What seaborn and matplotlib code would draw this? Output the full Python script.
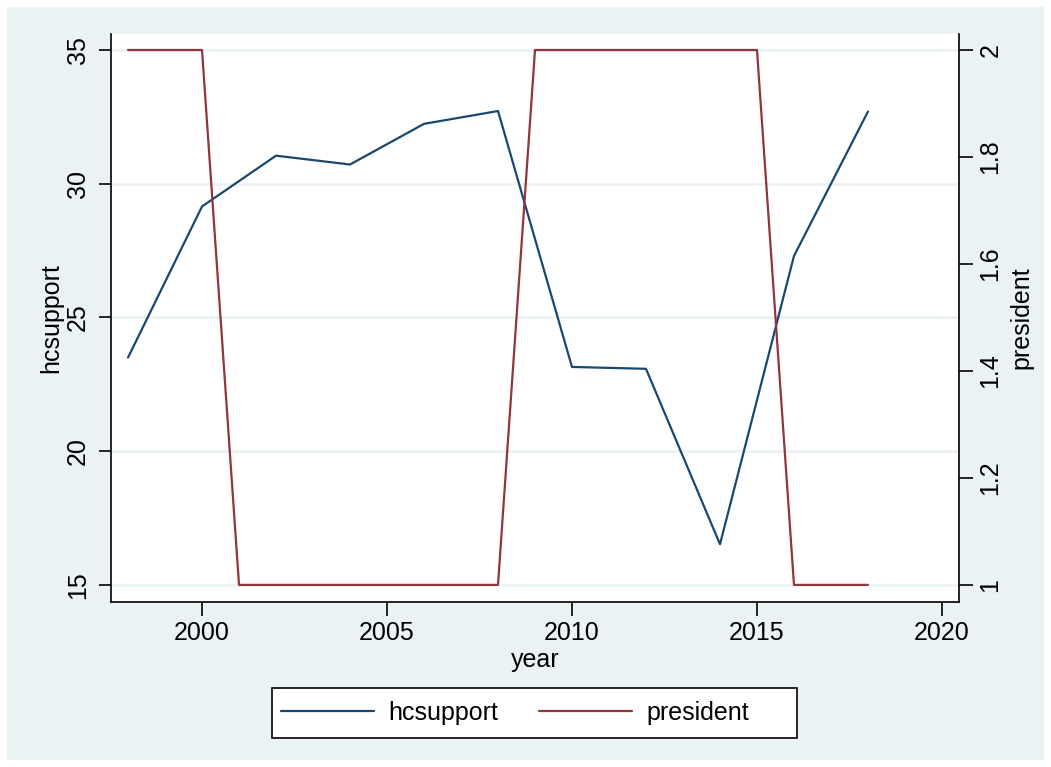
import matplotlib
matplotlib.use("Agg")
import matplotlib.pyplot as plt
import seaborn as sns
import pandas as pd
from matplotlib.patches import Rectangle
from matplotlib.lines import Line2D

hc_years = [1998, 2000, 2002, 2004, 2006, 2008, 2010, 2012, 2014, 2016, 2018]
hcsupport = [23.5, 29.15, 31.05, 30.72, 32.24, 32.72, 23.15, 23.08, 16.52, 27.3, 32.7]

pres_years = list(range(1998, 2019))
president = [2, 2, 2, 1, 1, 1, 1, 1, 1, 1, 1, 2, 2, 2, 2, 2, 2, 2, 1, 1, 1]

xticks = [2000, 2005, 2010, 2015, 2020]
yticks_left = [15, 20, 25, 30, 35]
yticks_right = [1, 1.2, 1.4, 1.6, 1.8, 2]
yticklabels_right = ["1", "1.2", "1.4", "1.6", "1.8", "2"]

NAVY = "#1a476f"
MAROON = "#90353b"
BG = "#eaf2f3"

sns.set_theme(style="white")
plt.rcParams['font.family'] = ['Liberation Sans', 'DejaVu Sans']
plt.rcParams.update({"text.color": "black", "axes.labelcolor": "black",
                     "xtick.color": "black", "ytick.color": "black"})

W, H = 1051, 767
fig = plt.figure(figsize=(W / 100, H / 100), dpi=100, facecolor="white")
fig.patches.append(Rectangle((7 / W, 7 / H), (1044 - 7) / W, (760 - 7) / H,
                             transform=fig.transFigure, facecolor=BG,
                             edgecolor="none", zorder=-10))

left, right, top, bottom = 111, 959, 34, 602
ax = fig.add_axes([left / W, 1 - bottom / H, (right - left) / W, (bottom - top) / H])
ax.set_facecolor("white")

df_hc = pd.DataFrame({"year": hc_years, "hcsupport": hcsupport})
df_pr = pd.DataFrame({"year": pres_years, "president": president})

sns.lineplot(data=df_hc, x="year", y="hcsupport", ax=ax, color=NAVY, lw=1.6, zorder=3)
ax2 = ax.twinx()
sns.lineplot(data=df_pr, x="year", y="president", ax=ax2, color=MAROON, lw=1.6, zorder=3)

ax.set_xlim(1997.54, 2020.46)
ax.set_ylim(14.36, 35.6)
ax2.set_ylim(0.968, 2.0299)

ax.set_xticks(xticks)
ax.set_yticks(yticks_left)
ax2.set_yticks(yticks_right)
ax2.set_yticklabels(yticklabels_right)

for y in yticks_left:
    ax.axhline(y, color=BG, lw=1.8, zorder=1)

fs = 18
ax.tick_params(axis="x", direction="out", length=10, width=1.2, color="black",
               labelsize=fs, pad=4, bottom=True)
ax.tick_params(axis="y", direction="out", length=9, width=1.2, color="black",
               labelsize=fs, pad=6, left=True, labelrotation=90)
ax2.tick_params(axis="y", direction="out", length=10, width=1.2, color="black",
                labelsize=fs, pad=4, right=True, labelrotation=90)
for lab in ax.get_yticklabels():
    lab.set_va("center")
for lab in ax2.get_yticklabels():
    lab.set_va("center")

ax.set_xlabel("year", fontsize=fs, labelpad=2)
ax.set_ylabel("hcsupport", fontsize=fs, labelpad=2)
ax2.set_ylabel("president", fontsize=fs, labelpad=5)

for a in (ax, ax2):
    a.spines["top"].set_visible(False)
    for s in ("left", "right", "bottom"):
        a.spines[s].set_color("black")
        a.spines[s].set_linewidth(1.2)
ax.spines["right"].set_visible(False)
ax2.spines["left"].set_visible(False)
ax2.spines["bottom"].set_visible(False)
ax.grid(False)
ax2.grid(False)

# legend frame
fig.patches.append(Rectangle((272 / W, 1 - 738 / H), (797 - 272) / W, 50 / H,
                             transform=fig.transFigure, facecolor="white",
                             edgecolor="black", lw=1.2, zorder=-5))
handles = [Line2D([], [], color=NAVY, lw=1.6), Line2D([], [], color=MAROON, lw=1.6)]
leg = fig.legend(handles, ["hcsupport", "president"], loc="center left",
                 bbox_to_anchor=(281 / W, 1 - 713 / H), ncol=2,
                 fontsize=fs, frameon=False, handlelength=3.72,
                 handletextpad=0.56, columnspacing=1.65, borderpad=0,
                 borderaxespad=0)

fig.savefig("out.png", dpi=100, facecolor="white")
